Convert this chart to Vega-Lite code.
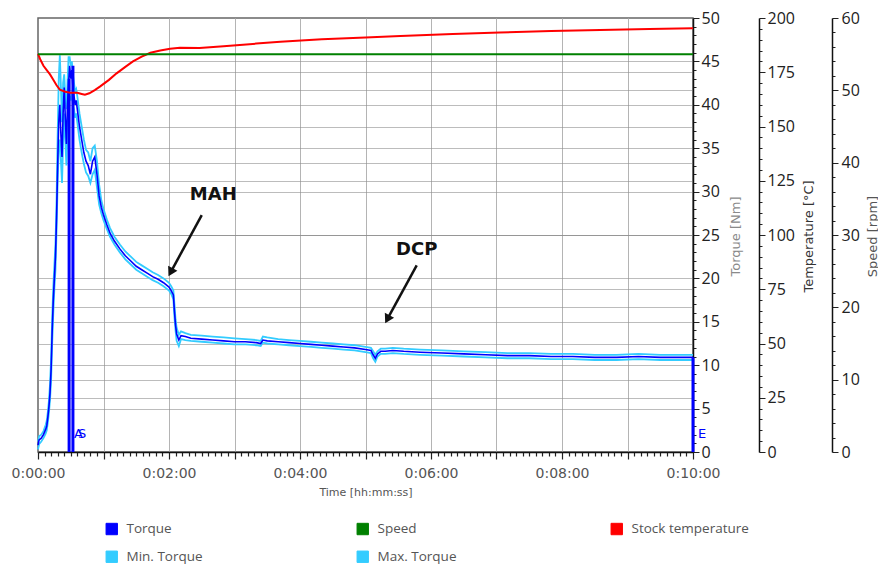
{
  "$schema": "https://vega.github.io/schema/vega-lite/v6.json",
  "width": 655,
  "height": 434,
  "autosize": "none",
  "padding": {"left": 38, "top": 18, "right": 185, "bottom": 112},
  "background": "white",
  "config": {
    "view": {"stroke": "#666666", "strokeWidth": 1.5},
    "font": "DejaVu Sans"
  },
  "datasets": {
    "torque": [
      {"t": 0, "torque": 0.8, "min": 0.3, "max": 1.2},
      {"t": 1, "torque": 1.4, "min": 0.9, "max": 1.8},
      {"t": 3, "torque": 1.6, "min": 1.2, "max": 2.0},
      {"t": 5, "torque": 2.0, "min": 1.6, "max": 2.4},
      {"t": 7, "torque": 2.6, "min": 2.1, "max": 3.1},
      {"t": 8, "torque": 3.0, "min": 2.5, "max": 3.6},
      {"t": 9, "torque": 4.0, "min": 3.4, "max": 4.6},
      {"t": 10, "torque": 5.2, "min": 4.5, "max": 5.9},
      {"t": 11, "torque": 6.8, "min": 6.0, "max": 7.8},
      {"t": 12, "torque": 9.5, "min": 8.3, "max": 10.8},
      {"t": 13, "torque": 14.0, "min": 12.5, "max": 15.5},
      {"t": 14, "torque": 17.5, "min": 16.0, "max": 19.0},
      {"t": 15, "torque": 20.0, "min": 18.8, "max": 21.5},
      {"t": 16, "torque": 22.5, "min": 21.0, "max": 24.0},
      {"t": 17, "torque": 27.0, "min": 25.5, "max": 29.0},
      {"t": 18, "torque": 33.0, "min": 31.0, "max": 36.5},
      {"t": 19, "torque": 38.0, "min": 35.0, "max": 43.0},
      {"t": 20, "torque": 40.0, "min": 36.0, "max": 45.7},
      {"t": 21, "torque": 36.5, "min": 33.5, "max": 42.0},
      {"t": 22, "torque": 34.0, "min": 31.0, "max": 38.0},
      {"t": 23, "torque": 39.0, "min": 35.5, "max": 42.5},
      {"t": 24, "torque": 42.0, "min": 39.0, "max": 43.5},
      {"t": 25, "torque": 38.5, "min": 36.0, "max": 41.0},
      {"t": 26, "torque": 35.5, "min": 33.0, "max": 39.5},
      {"t": 27, "torque": 40.0, "min": 37.0, "max": 42.5},
      {"t": 28, "torque": 42.5, "min": 40.0, "max": 45.5},
      {"t": 29, "torque": 44.5, "min": 41.0, "max": 45.5},
      {"t": 30, "torque": 43.0, "min": 40.5, "max": 44.5},
      {"t": 31, "torque": 44.0, "min": 41.5, "max": 45.0},
      {"t": 32, "torque": 42.0, "min": 40.0, "max": 43.5},
      {"t": 33, "torque": 41.0, "min": 39.5, "max": 42.5},
      {"t": 34, "torque": 40.0, "min": 38.5, "max": 41.5},
      {"t": 35, "torque": 40.5, "min": 39.0, "max": 41.8},
      {"t": 36, "torque": 39.5, "min": 38.0, "max": 41.0},
      {"t": 38, "torque": 37.5, "min": 36.0, "max": 39.0},
      {"t": 40, "torque": 36.0, "min": 34.5, "max": 37.5},
      {"t": 42, "torque": 34.5, "min": 33.2, "max": 36.0},
      {"t": 44, "torque": 33.5, "min": 32.2, "max": 34.8},
      {"t": 46, "torque": 33.0, "min": 31.8, "max": 34.5},
      {"t": 48, "torque": 32.0, "min": 31.0, "max": 33.5},
      {"t": 50, "torque": 33.5, "min": 32.0, "max": 35.0},
      {"t": 52, "torque": 34.0, "min": 32.5, "max": 35.3},
      {"t": 54, "torque": 32.0, "min": 30.5, "max": 33.5},
      {"t": 56, "torque": 29.5, "min": 28.5, "max": 30.8},
      {"t": 58, "torque": 28.2, "min": 27.5, "max": 29.0},
      {"t": 60, "torque": 27.3, "min": 26.7, "max": 28.0},
      {"t": 63, "torque": 26.2, "min": 25.7, "max": 26.8},
      {"t": 66, "torque": 25.2, "min": 24.8, "max": 25.8},
      {"t": 70, "torque": 24.3, "min": 23.9, "max": 24.8},
      {"t": 75, "torque": 23.4, "min": 23.0, "max": 23.9},
      {"t": 80, "torque": 22.6, "min": 22.2, "max": 23.1},
      {"t": 85, "torque": 22.0, "min": 21.6, "max": 22.5},
      {"t": 90, "torque": 21.4, "min": 21.0, "max": 21.9},
      {"t": 95, "torque": 21.0, "min": 20.6, "max": 21.5},
      {"t": 100, "torque": 20.6, "min": 20.2, "max": 21.1},
      {"t": 105, "torque": 20.2, "min": 19.8, "max": 20.7},
      {"t": 110, "torque": 19.9, "min": 19.5, "max": 20.4},
      {"t": 115, "torque": 19.5, "min": 19.1, "max": 20.0},
      {"t": 120, "torque": 19.0, "min": 18.6, "max": 19.5},
      {"t": 122, "torque": 18.6, "min": 18.2, "max": 19.1},
      {"t": 124, "torque": 18.1, "min": 17.6, "max": 18.6},
      {"t": 125, "torque": 16.2, "min": 15.5, "max": 17.0},
      {"t": 126, "torque": 14.6, "min": 14.0, "max": 15.3},
      {"t": 127, "torque": 13.6, "min": 12.8, "max": 14.3},
      {"t": 129, "torque": 12.9, "min": 12.2, "max": 13.5},
      {"t": 131, "torque": 13.4, "min": 13.0, "max": 13.9},
      {"t": 135, "torque": 13.3, "min": 12.9, "max": 13.7},
      {"t": 140, "torque": 13.1, "min": 12.8, "max": 13.5},
      {"t": 150, "torque": 13.0, "min": 12.7, "max": 13.4},
      {"t": 160, "torque": 12.9, "min": 12.6, "max": 13.3},
      {"t": 170, "torque": 12.8, "min": 12.5, "max": 13.2},
      {"t": 180, "torque": 12.7, "min": 12.4, "max": 13.1},
      {"t": 190, "torque": 12.7, "min": 12.4, "max": 13.0},
      {"t": 200, "torque": 12.6, "min": 12.3, "max": 12.9},
      {"t": 204, "torque": 12.5, "min": 12.2, "max": 12.8},
      {"t": 206, "torque": 12.9, "min": 12.6, "max": 13.3},
      {"t": 210, "torque": 12.8, "min": 12.5, "max": 13.2},
      {"t": 220, "torque": 12.7, "min": 12.4, "max": 13.0},
      {"t": 230, "torque": 12.6, "min": 12.3, "max": 12.9},
      {"t": 240, "torque": 12.5, "min": 12.2, "max": 12.8},
      {"t": 250, "torque": 12.4, "min": 12.1, "max": 12.7},
      {"t": 260, "torque": 12.3, "min": 12.0, "max": 12.6},
      {"t": 270, "torque": 12.2, "min": 11.9, "max": 12.5},
      {"t": 280, "torque": 12.1, "min": 11.8, "max": 12.4},
      {"t": 290, "torque": 12.0, "min": 11.7, "max": 12.3},
      {"t": 300, "torque": 11.8, "min": 11.5, "max": 12.1},
      {"t": 305, "torque": 11.7, "min": 11.4, "max": 12.0},
      {"t": 307, "torque": 11.2, "min": 10.8, "max": 11.6},
      {"t": 309, "torque": 10.8, "min": 10.4, "max": 11.2},
      {"t": 311, "torque": 11.3, "min": 11.0, "max": 11.6},
      {"t": 314, "torque": 11.6, "min": 11.3, "max": 11.9},
      {"t": 318, "torque": 11.6, "min": 11.3, "max": 11.9},
      {"t": 325, "torque": 11.7, "min": 11.4, "max": 12.0},
      {"t": 335, "torque": 11.6, "min": 11.3, "max": 11.9},
      {"t": 350, "torque": 11.5, "min": 11.2, "max": 11.8},
      {"t": 370, "torque": 11.4, "min": 11.1, "max": 11.7},
      {"t": 390, "torque": 11.3, "min": 11.0, "max": 11.6},
      {"t": 410, "torque": 11.2, "min": 10.9, "max": 11.5},
      {"t": 430, "torque": 11.1, "min": 10.8, "max": 11.4},
      {"t": 450, "torque": 11.1, "min": 10.8, "max": 11.4},
      {"t": 470, "torque": 11.0, "min": 10.7, "max": 11.3},
      {"t": 490, "torque": 11.0, "min": 10.7, "max": 11.3},
      {"t": 510, "torque": 10.9, "min": 10.6, "max": 11.2},
      {"t": 530, "torque": 10.9, "min": 10.6, "max": 11.2},
      {"t": 550, "torque": 11.0, "min": 10.7, "max": 11.3},
      {"t": 570, "torque": 10.9, "min": 10.6, "max": 11.2},
      {"t": 590, "torque": 10.9, "min": 10.6, "max": 11.2},
      {"t": 600, "torque": 10.9, "min": 10.6, "max": 11.2}
    ],
    "temperature": [
      {"t": 0, "temp": 183.5}, {"t": 2, "temp": 181}, {"t": 5, "temp": 178}, {"t": 8, "temp": 176},
      {"t": 11, "temp": 174}, {"t": 14, "temp": 171.5}, {"t": 17, "temp": 169}, {"t": 20, "temp": 167},
      {"t": 25, "temp": 166}, {"t": 30, "temp": 165.5}, {"t": 36, "temp": 165.5}, {"t": 40, "temp": 165},
      {"t": 43, "temp": 164.6}, {"t": 47, "temp": 165.3}, {"t": 52, "temp": 166.8}, {"t": 57, "temp": 168.5},
      {"t": 65, "temp": 171.5}, {"t": 72, "temp": 174.5}, {"t": 80, "temp": 177.5}, {"t": 87, "temp": 180},
      {"t": 95, "temp": 182.2}, {"t": 103, "temp": 184}, {"t": 112, "temp": 185}, {"t": 121, "temp": 185.8},
      {"t": 130, "temp": 186.3}, {"t": 148, "temp": 186.2}, {"t": 170, "temp": 187}, {"t": 200, "temp": 188.2},
      {"t": 222, "temp": 189}, {"t": 260, "temp": 190.2}, {"t": 300, "temp": 191}, {"t": 332, "temp": 191.7},
      {"t": 380, "temp": 192.6}, {"t": 423, "temp": 193.3}, {"t": 470, "temp": 194}, {"t": 515, "temp": 194.5},
      {"t": 560, "temp": 194.9}, {"t": 600, "temp": 195.3}
    ],
    "speed": [
      {"t": 0, "speed": 55}, {"t": 300, "speed": 55}, {"t": 600, "speed": 55}
    ],
    "markers": [
      {"t": 28.5, "top": 43.0, "label": "A"},
      {"t": 32, "top": 44.5, "label": "S"},
      {"t": 600, "top": 10.9, "label": "E"}
    ],
    "notes": [
      {"label": "MAH", "t": 160.6, "T": 29.6},
      {"label": "DCP", "t": 346.9, "T": 23.3}
    ],
    "arrows": [
      {"t": 121.5, "T": 20.7, "t2": 150, "T2": 27.3},
      {"t": 320, "T": 15.3, "t2": 346.9, "T2": 21.5}
    ]
  },
  "resolve": {"scale": {"y": "independent"}},
  "encoding": {
    "x": {
      "field": "t", "type": "quantitative", "title": "Time [hh:mm:ss]",
      "scale": {"domain": [0, 600], "nice": false, "zero": false},
      "axis": {
        "values": [0,6,12,18,24,30,36,42,48,54,60,66,72,78,84,90,96,102,108,114,120,126,132,138,144,150,156,162,168,174,180,186,192,198,204,210,216,222,228,234,240,246,252,258,264,270,276,282,288,294,300,306,312,318,324,330,336,342,348,354,360,366,372,378,384,390,396,402,408,414,420,426,432,438,444,450,456,462,468,474,480,486,492,498,504,510,516,522,528,534,540,546,552,558,564,570,576,582,588,594,600],
        "labelExpr": "datum.value % 120 === 0 ? '0:' + (datum.value < 600 ? '0' : '') + (datum.value / 60) + ':00' : ''",
        "labelOverlap": false,
        "labelFlush": false,
        "labelFont": "DejaVu Sans",
        "labelFontSize": 14,
        "labelColor": "#555555",
        "labelPadding": 7,
        "tickSize": 7,
        "tickDash": {"condition": {"test": "datum.value % 60 !== 0", "value": [4, 10]}, "value": []},
        "tickColor": "#222222",
        "tickWidth": 1.2,
        "domainColor": "#111111",
        "domainWidth": 1.5,
        "grid": true,
        "gridColor": "#b4b4b4",
        "gridOpacity": {"condition": {"test": "datum.value % 60 === 0 && datum.value > 0 && datum.value < 600", "value": 1}, "value": 0},
        "titleFont": "DejaVu Sans",
        "titleFontSize": 11,
        "titleFontWeight": "normal",
        "titleColor": "#555555",
        "titlePadding": 6
      }
    }
  },
  "layer": [
    {
      "data": {"name": "torque"},
      "mark": {"type": "line", "strokeWidth": 1.8},
      "encoding": {
        "y": {
          "field": "max", "type": "quantitative",
          "scale": {"domain": [0, 50], "nice": false},
          "axis": {
            "orient": "right",
            "title": "Torque [Nm]",
            "values": [0,1,2,3,4,5,6,7,8,9,10,11,12,13,14,15,16,17,18,19,20,21,22,23,24,25,26,27,28,29,30,31,32,33,34,35,36,37,38,39,40,41,42,43,44,45,46,47,48,49,50],
            "labelExpr": "datum.value % 5 === 0 ? datum.label : ''",
            "labelOverlap": false,
            "labelFont": "Open Sans",
            "labelFontSize": 16,
            "labelColor": "#222222",
            "labelPadding": 2,
            "tickSize": {"condition": {"test": "datum.value % 5 === 0", "value": 6}, "value": 3},
            "tickColor": "#222222",
            "domainColor": "#111111",
            "domainWidth": 1.5,
            "grid": true,
            "gridColor": "#909090",
            "gridOpacity": {"condition": {"test": "datum.value % 5 === 0 && datum.value > 0 && datum.value < 50", "value": 0.6}, "value": 0},
            "titleFont": "DejaVu Sans",
            "titleFontSize": 13,
            "titleFontWeight": "normal",
            "titleColor": "#8a8a8a",
            "titleAngle": 270,
            "titleAlign": "center",
            "titleBaseline": "middle",
            "titleX": 42,
            "titleY": 218
          }
        },
        "color": {
          "datum": "Max. Torque",
          "scale": {
            "domain": ["Torque", "Speed", "Stock temperature", "Min. Torque", "Max. Torque"],
            "range": ["#0000ff", "#008000", "#ff0000", "#33ccff", "#33ccff"]
          },
          "legend": {
            "orient": "none",
            "direction": "horizontal",
            "legendX": 67,
            "legendY": 504,
            "columns": 3,
            "title": null,
            "symbolType": "square",
            "symbolSize": 130,
            "symbolStrokeWidth": 1,
            "labelFont": "Open Sans",
            "labelFontSize": 13.5,
            "labelColor": "#555555",
            "labelOffset": 8,
            "columnPadding": 152,
            "rowPadding": 12,
            "padding": 0,
            "encode": {
              "symbols": {
                "update": {
                  "fill": {"scale": "color", "field": "value"},
                  "stroke": {"scale": "color", "field": "value"},
                  "opacity": {"value": 1},
                  "fillOpacity": {"value": 1}
                }
              }
            }
          }
        }
      }
    },
    {
      "data": {"name": "torque"},
      "mark": {"type": "line", "strokeWidth": 1.8},
      "encoding": {
        "y": {"field": "min", "type": "quantitative", "scale": {"domain": [0, 50], "nice": false}, "axis": null},
        "color": {"datum": "Min. Torque", "legend": null}
      }
    },
    {
      "data": {"name": "torque"},
      "mark": {"type": "line", "strokeWidth": 1.6},
      "encoding": {
        "y": {"field": "torque", "type": "quantitative", "scale": {"domain": [0, 50], "nice": false}, "axis": null},
        "color": {"datum": "Torque", "legend": null}
      }
    },
    {
      "data": {"name": "markers"},
      "mark": {"type": "rule", "color": "#0000ff", "strokeWidth": 3},
      "encoding": {
        "y": {"field": "top", "type": "quantitative", "scale": {"domain": [0, 50], "nice": false}, "axis": null},
        "y2": {"datum": 0}
      }
    },
    {
      "data": {"name": "markers"},
      "mark": {"type": "text", "color": "#0000ff", "align": "left", "baseline": "middle", "dx": 5, "fontSize": 13, "font": "DejaVu Sans"},
      "encoding": {
        "y": {"datum": 2.1, "type": "quantitative", "scale": {"domain": [0, 50], "nice": false}, "axis": null},
        "text": {"field": "label"}
      }
    },
    {
      "data": {"name": "temperature"},
      "mark": {"type": "line", "strokeWidth": 2},
      "encoding": {
        "y": {
          "field": "temp", "type": "quantitative",
          "scale": {"domain": [0, 200], "nice": false},
          "axis": {
            "orient": "right",
            "offset": 66,
            "title": "Temperature [°C]",
            "values": [0,5,10,15,20,25,30,35,40,45,50,55,60,65,70,75,80,85,90,95,100,105,110,115,120,125,130,135,140,145,150,155,160,165,170,175,180,185,190,195,200],
            "labelExpr": "datum.value % 25 === 0 ? datum.label : ''",
            "labelOverlap": false,
            "labelFont": "Open Sans",
            "labelFontSize": 16,
            "labelColor": "#222222",
            "labelPadding": 2,
            "tickSize": {"condition": {"test": "datum.value % 25 === 0", "value": 6}, "value": 3},
            "tickColor": "#222222",
            "domainColor": "#111111",
            "domainWidth": 1.5,
            "grid": true,
            "gridColor": "#909090",
            "gridOpacity": {"condition": {"test": "datum.value % 25 === 0 && datum.value > 0 && datum.value < 200", "value": 0.6}, "value": 0},
            "titleFont": "DejaVu Sans",
            "titleFontSize": 13,
            "titleFontWeight": "normal",
            "titleColor": "#333333",
            "titleAngle": 270,
            "titleAlign": "center",
            "titleBaseline": "middle",
            "titleX": 49,
            "titleY": 218
          }
        },
        "color": {"datum": "Stock temperature", "legend": null}
      }
    },
    {
      "data": {"name": "speed"},
      "mark": {"type": "line", "strokeWidth": 2},
      "encoding": {
        "y": {
          "field": "speed", "type": "quantitative",
          "scale": {"domain": [0, 60], "nice": false},
          "axis": {
            "orient": "right",
            "offset": 139,
            "title": "Speed [rpm]",
            "values": [0,2,4,6,8,10,12,14,16,18,20,22,24,26,28,30,32,34,36,38,40,42,44,46,48,50,52,54,56,58,60],
            "labelExpr": "datum.value % 10 === 0 ? datum.label : ''",
            "labelOverlap": false,
            "labelFont": "Open Sans",
            "labelFontSize": 16,
            "labelColor": "#222222",
            "labelPadding": 3,
            "tickSize": {"condition": {"test": "datum.value % 10 === 0", "value": 6}, "value": 3},
            "tickColor": "#222222",
            "domainColor": "#111111",
            "domainWidth": 1.5,
            "grid": true,
            "gridColor": "#909090",
            "gridOpacity": {"condition": {"test": "datum.value % 10 === 0 && datum.value > 0 && datum.value < 60", "value": 0.6}, "value": 0},
            "titleFont": "DejaVu Sans",
            "titleFontSize": 13,
            "titleFontWeight": "normal",
            "titleColor": "#555555",
            "titleAngle": 270,
            "titleAlign": "center",
            "titleBaseline": "middle",
            "titleX": 40,
            "titleY": 218
          }
        },
        "color": {"datum": "Speed", "legend": null}
      }
    },
    {
      "data": {"name": "notes"},
      "mark": {"type": "text", "font": "DejaVu Sans", "fontWeight": "bold", "fontSize": 18, "color": "#111111", "align": "center", "baseline": "middle"},
      "encoding": {
        "y": {"field": "T", "type": "quantitative", "scale": {"domain": [0, 50], "nice": false}, "axis": null},
        "text": {"field": "label"}
      }
    },
    {
      "data": {"name": "arrows"},
      "mark": {"type": "rule", "color": "#111111", "strokeWidth": 2.5},
      "encoding": {
        "y": {"field": "T", "type": "quantitative", "scale": {"domain": [0, 50], "nice": false}, "axis": null},
        "x2": {"field": "t2"},
        "y2": {"field": "T2"}
      }
    },
    {
      "data": {"name": "arrows"},
      "mark": {"type": "point", "shape": "triangle-up", "filled": true, "color": "#111111", "opacity": 1, "size": 110, "angle": 208},
      "encoding": {
        "y": {"field": "T", "type": "quantitative", "scale": {"domain": [0, 50], "nice": false}, "axis": null}
      }
    }
  ]
}
